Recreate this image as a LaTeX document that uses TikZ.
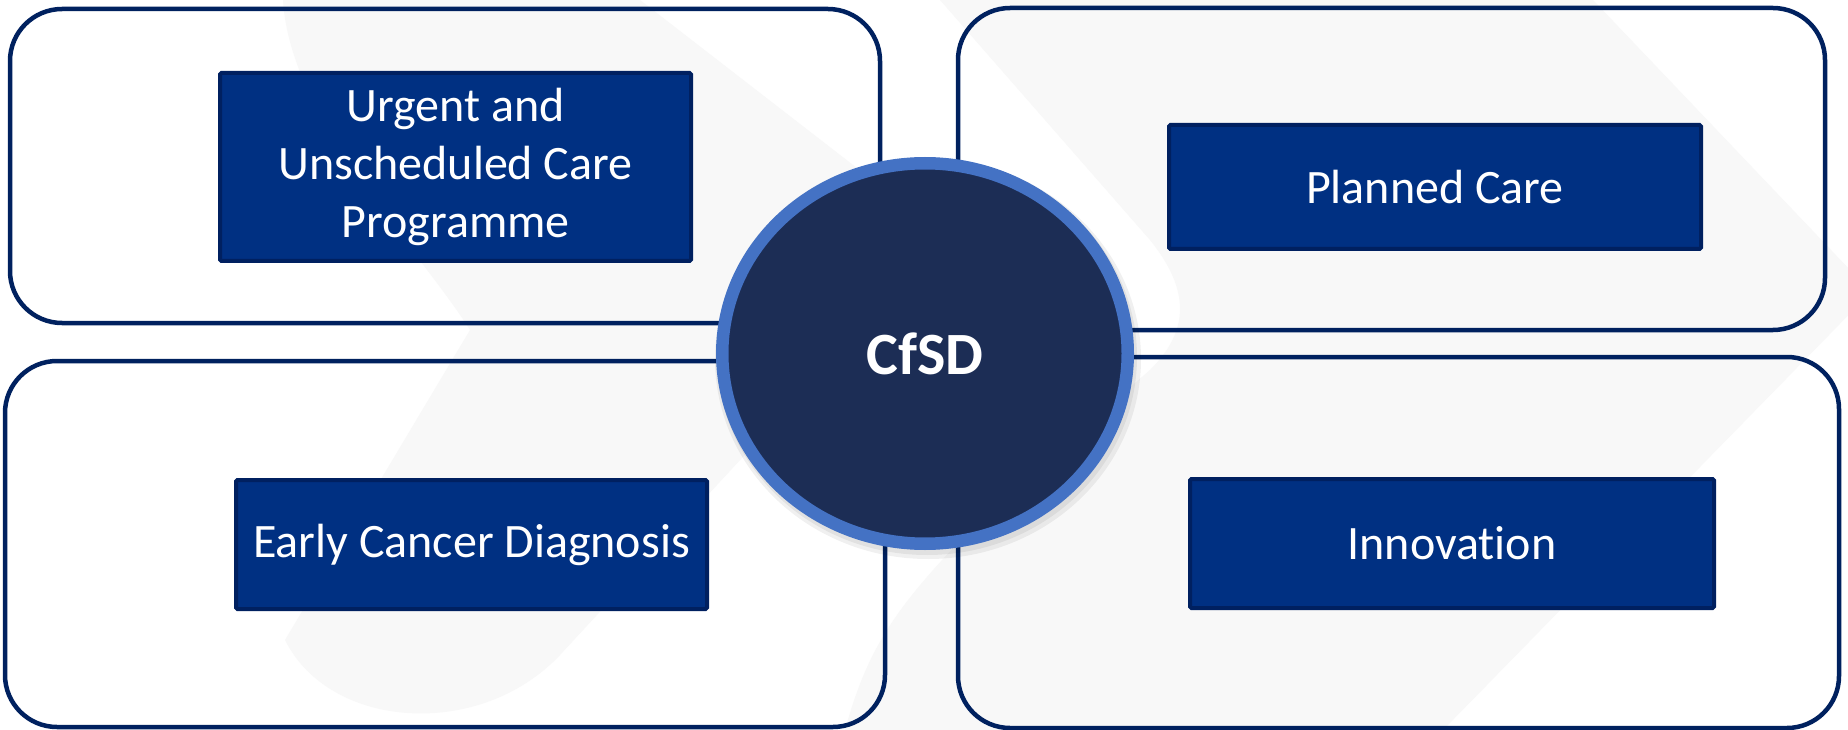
\documentclass[tikz,border=0pt]{standalone}
\usepackage{fontspec}
\setmainfont[Ligatures=NoCommon]{Carlito}
\usetikzlibrary{shapes.geometric}
\definecolor{wmgrey}{HTML}{F8F8F8}
\definecolor{framenavy}{HTML}{00215F}
\definecolor{boxfill}{HTML}{003082}
\definecolor{boxedge}{HTML}{002060}
\definecolor{hubfill}{HTML}{1C2D55}
\definecolor{hubring}{HTML}{4472C4}
\tikzset{
  outerbox/.style={draw=framenavy, line width=4.5pt, rounded corners=52pt, inner sep=0pt, outer sep=0pt},
  topicbox/.style={draw=boxedge, fill=boxfill, line width=4pt, rounded corners=1.5pt, inner sep=0pt,
    text=white, align=center, font=\fontsize{48}{58}\selectfont},
  hubnode/.style={ellipse, draw=hubring, fill=hubfill, line width=12.5pt, inner sep=0pt,
    text=white, font=\fontsize{60}{70}\selectfont\bfseries},
}
\begin{document}
\begin{tikzpicture}[x=1pt, y=-1pt]
\useasboundingbox (0,0) rectangle (1848,730);
\fill[white] (0,0) rectangle (1848,730);
% faint watermark chevrons
\fill[wmgrey] (283,0) -- (640,0) -- (946,237) -- (560,655)
  .. controls (480,740) and (330,730) .. (285,640) -- (470,330)
  .. controls (420,250) and (290,120) .. cycle;
\fill[wmgrey] (940,0) -- (1593,0) -- (1871,292) -- (1443,730) -- (845,730)
  .. controls (870,640) and (900,600) .. (1000,500) -- (1150,370)
  .. controls (1190,330) and (1190,290) .. (1150,240) -- cycle;
% outer frames
\node[outerbox, minimum width=870pt, minimum height=314pt] (tl) at (445,166) {};
\node[outerbox, minimum width=867pt, minimum height=322pt] (tr) at (1391.5,169) {};
\node[outerbox, minimum width=880pt, minimum height=366pt] (bl) at (445,544) {};
\node[outerbox, minimum width=881pt, minimum height=371pt] (br) at (1398.5,542.5) {};
% topic boxes
\node[topicbox, minimum width=471pt, minimum height=188pt] (urgent) at (455.5,167) {Urgent and\\Unscheduled Care\\Programme};
\node[topicbox, minimum width=532pt, minimum height=124pt] (planned) at (1435,187) {Planned Care};
\node[topicbox, minimum width=471pt, minimum height=129pt] (early) at (471.5,544.5) {Early Cancer Diagnosis};
\node[topicbox, minimum width=524pt, minimum height=129pt] (innov) at (1452,543.5) {Innovation};
% hub shadow and hub
\fill[black, opacity=0.06] (928,359) ellipse [x radius=213pt, y radius=200pt];
\fill[black, opacity=0.06] (927,357) ellipse [x radius=210pt, y radius=198pt];
\node[hubnode, minimum width=405.5pt, minimum height=380.5pt] (hub) at (925,353.5) {CfSD};
\end{tikzpicture}
\end{document}
